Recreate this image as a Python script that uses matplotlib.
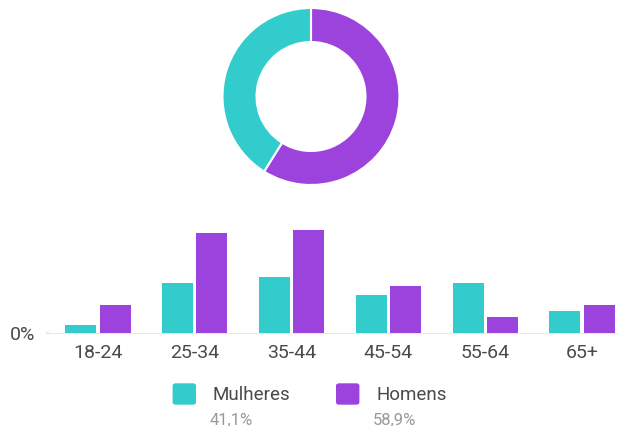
import numpy as np
import matplotlib
matplotlib.use("Agg")
import matplotlib.pyplot as plt
from matplotlib.patches import FancyBboxPatch

# data
faixas = ["18-24", "25-34", "35-44", "45-54", "55-64", "65+"]
mulheres = [1.6, 9.1, 10.3, 6.9, 9.1, 4.0]
homens = [5.2, 18.2, 18.8, 8.6, 2.9, 5.2]
total_labels = ["Mulheres", "Homens"]
total_vals = [41.1, 58.9]
total_txt = ["41,1%", "58,9%"]

teal = "#33cccc"
purple = "#9c43de"
txt_col = "#4a4a4a"
plt.rcParams['font.family'] = ['Roboto', 'DejaVu Sans']

W, H = 618, 427
fig = plt.figure(figsize=(W / 100, H / 100), dpi=100)

# donut
cx, cy, r = 311, 97.5, 88.5
ax_d = fig.add_axes([(cx - r) / W, 1 - (cy + r) / H, 2 * r / W, 2 * r / H])
ax_d.pie([total_vals[1], total_vals[0]], colors=[purple, teal], startangle=90,
         counterclock=False, radius=1,
         wedgeprops=dict(width=34 / 88.5, edgecolor="white", linewidth=1.5))
ax_d.set_xlim(-1, 1)
ax_d.set_ylim(-1, 1)
ax_d.set_aspect("equal")
ax_d.axis("off")

# bars
step = 96.87          # px between groups
first = 97.85         # px centre of the first group
left = first - step / 2
base = 334.3
px_per_pct = 5.49
ax = fig.add_axes([left / W, 1 - base / H, (W - left) / W, 20 * px_per_pct / H])
x = np.arange(len(faixas))
w = 0.32
ax.bar(x - 0.178, mulheres, w, color=teal)
ax.bar(x + 0.178, homens, w, color=purple)
ax.set_xlim(-0.5, (W - left) / step - 0.5)
ax.set_ylim(0, 20)
for s in ax.spines.values():
    s.set_visible(False)
ax.set_yticks([])
ax.set_xticks(x)
ax.set_xticklabels(faixas, fontsize=14, color=txt_col)
ax.tick_params(axis="x", length=0, pad=7)

# baseline
fig.add_artist(plt.Line2D([47 / W, 1], [1 - base / H] * 2, color="#e8e8e8", lw=1.5,
                          transform=fig.transFigure, zorder=0))
fig.text(10 / W, 1 - 335 / H, "0%", fontsize=14, color=txt_col, va="center", ha="left")

# legend
for col, lab, txt, sx in zip([teal, purple], total_labels, total_txt, [173.3, 336.7]):
    fig.add_artist(FancyBboxPatch((sx / W, 1 - 405 / H), 22 / W, 20 / H,
                                  boxstyle="round,pad=0,rounding_size=0.004",
                                  color=col, transform=fig.transFigure))
    fig.text((sx + 39.5) / W, 1 - 395 / H, lab, fontsize=13.5, color=txt_col, va="center")
    fig.text((sx + 36) / W, 1 - 420 / H, txt, fontsize=12, color="#999999", va="center")

fig.savefig("out.png", dpi=100)
